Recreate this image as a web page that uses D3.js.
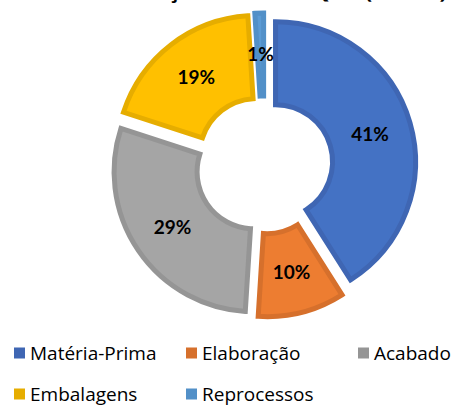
<!DOCTYPE html>
<meta charset="utf-8">
<script src="https://d3js.org/d3.v7.min.js"></script>
<style>
  body { margin: 0; background: #fff; }
</style>
<svg id="chart" width="457" height="405"></svg>
<script>
// chart data
var categories = ["Matéria-Prima", "Elaboração", "Acabado", "Embalagens", "Reprocessos"];
var values = [41, 10, 29, 19, 1];
var labels = ["41%", "10%", "29%", "19%", "1%"];
var fills = ["#4472C4", "#ED7D31", "#A5A5A5", "#FFC000", "#5B9BD5"];
var borders = ["#3F66B3", "#D6702C", "#959595", "#E6AD00", "#5290C8"];

var svg = d3.select("#chart");
var cx = 264, cy = 165;
var outerR = 140, innerR = 57, explode = 12;

// title (mostly cut off above the frame)
svg.append("text")
  .attr("x", 255).attr("y", -2)
  .attr("text-anchor", "middle")
  .style("font-family", "Open Sans, sans-serif")
  .style("font-weight", "bold")
  .style("font-size", "22px")
  .text("COMPOSIÇÃO DO ESTOQUE (R$ / %)");

var pie = d3.pie().sort(null).value(function(d) { return d; });
var arcs = pie(values);
var arc = d3.arc().innerRadius(innerR).outerRadius(outerR);

var g = svg.append("g").attr("transform", "translate(" + cx + "," + cy + ")");

var slice = g.selectAll("g.slice")
  .data(arcs)
  .enter().append("g")
  .attr("class", "slice")
  .attr("transform", function(d) {
    var a = (d.startAngle + d.endAngle) / 2;
    return "translate(" + (Math.sin(a) * explode) + "," + (-Math.cos(a) * explode) + ")";
  });

slice.append("path")
  .attr("d", arc)
  .attr("fill", function(d, i) { return fills[i]; })
  .attr("stroke", function(d, i) { return borders[i]; })
  .attr("stroke-width", 5)
  .attr("stroke-linejoin", "miter");

var midR = (innerR + outerR) / 2;
slice.append("text")
  .attr("x", function(d) { return Math.sin((d.startAngle + d.endAngle) / 2) * midR; })
  .attr("y", function(d) { return -Math.cos((d.startAngle + d.endAngle) / 2) * midR; })
  .attr("dy", "0.35em")
  .attr("text-anchor", "middle")
  .style("font-family", "Lato, sans-serif")
  .style("font-weight", "bold")
  .style("font-size", "19px")
  .style("fill", "#000")
  .text(function(d, i) { return labels[i]; });

// legend
var legX = [14, 186, 358], legY = [353, 394];
var legend = svg.selectAll("g.leg")
  .data(categories)
  .enter().append("g")
  .attr("class", "leg")
  .attr("transform", function(d, i) {
    return "translate(" + legX[i % 3] + "," + legY[Math.floor(i / 3)] + ")";
  });
legend.append("rect")
  .attr("x", 0).attr("y", -5.5)
  .attr("width", 11).attr("height", 11)
  .attr("fill", function(d, i) { return borders[i]; });
legend.append("text")
  .attr("x", 16).attr("y", 0)
  .attr("dy", "0.35em")
  .style("font-family", "Open Sans, sans-serif")
  .style("font-size", "19px")
  .style("fill", "#000")
  .text(function(d) { return d; });
</script>
